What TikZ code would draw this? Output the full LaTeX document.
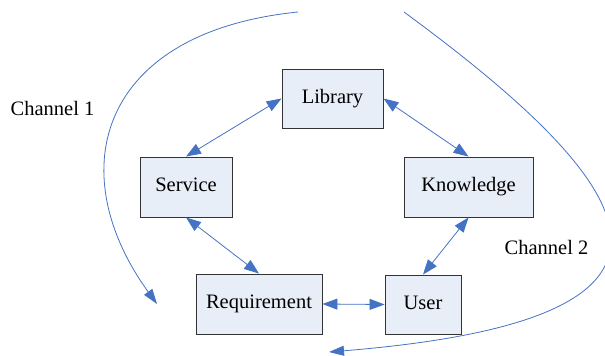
\documentclass[tikz,border=0pt]{standalone}
\usepackage{fontspec}
\setmainfont{Liberation Serif}
\newfontfamily\tnr{Liberation Serif}
\usetikzlibrary{arrows.meta}
\definecolor{boxfill}{HTML}{E8EEF8}
\definecolor{boxline}{HTML}{333333}
\definecolor{arrowblue}{HTML}{4472C4}
\begin{document}
\begin{tikzpicture}[x=1pt,y=-1pt,
  box/.style={draw=boxline,fill=boxfill,line width=0.9pt,inner sep=0pt,
    font=\tnr\fontsize{20.5}{24}\selectfont},
  link/.style={draw=arrowblue,line width=0.8pt,
    {Triangle[length=15pt,width=11pt]}-{Triangle[length=15pt,width=11pt]}},
  chan/.style={draw=arrowblue,line width=0.8pt,-{Triangle[length=15pt,width=10pt]}},
  lbl/.style={font=\tnr\fontsize{20.5}{24}\selectfont,inner sep=0pt}]
\useasboundingbox (0,0) rectangle (605,356);
\node[box,minimum width=101pt,minimum height=59pt] (lib) at (332.5,98.5) {\strut Library};
\node[box,minimum width=92pt,minimum height=60pt] (ser) at (186,187) {\strut Service};
\node[box,minimum width=129pt,minimum height=60pt] (kno) at (468.5,187) {\strut Knowledge};
\node[box,minimum width=126pt,minimum height=60pt] (req) at (259,304) {\strut Requirement};
\node[box,minimum width=76pt,minimum height=59pt] (usr) at (423,304.5) {\strut User};
\draw[link] (ser.north) -- (lib.west);
\draw[link] (lib.east) -- (kno.north);
\draw[link] (ser.south) -- (req.north);
\draw[link] (kno.south) -- (usr.north);
\draw[link] (req.east) -- (usr.west);
\coordinate (c1s) at (298,12);
\coordinate (c1e) at (157,304);
\coordinate (c2s) at (404,12);
\coordinate (c2e) at (329,352);
\draw[chan] (c1s) .. controls (100,32) and (60,170) .. (c1e);
\draw[chan] (c2s) .. controls (660,200) and (720,320) .. (c2e);
\node[lbl] (ch1) at (52.5,108) {Channel 1};
\node[lbl] (ch2) at (546.5,247) {Channel 2};
\end{tikzpicture}
\end{document}
